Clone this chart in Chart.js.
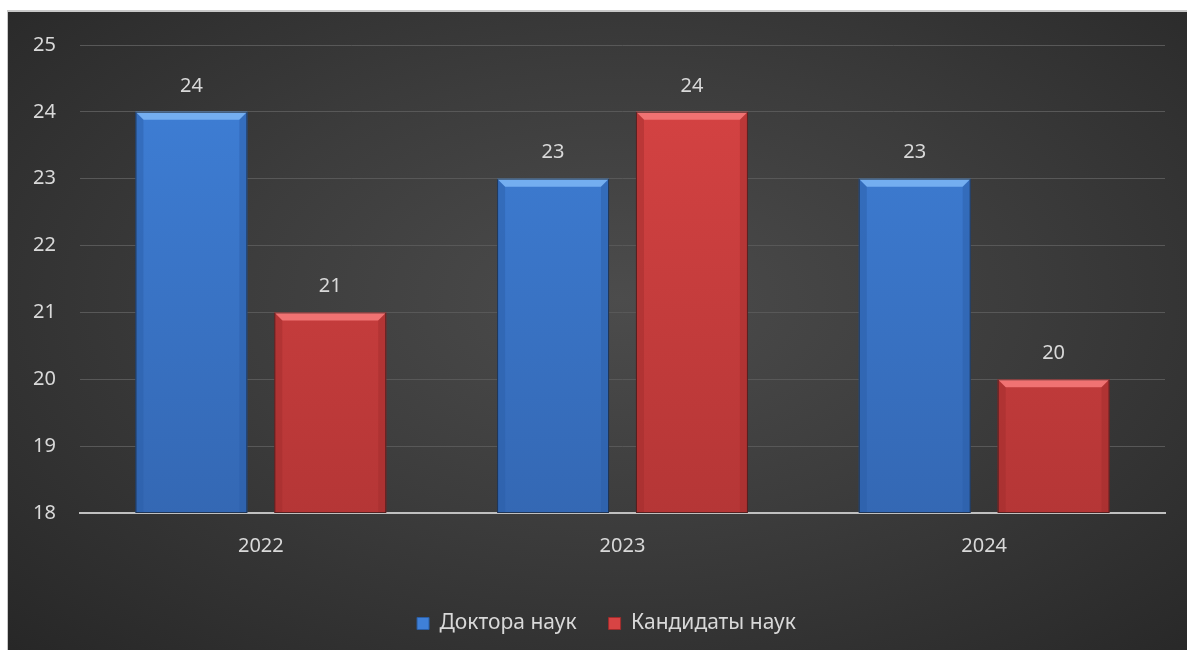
<!DOCTYPE html>
<html lang="ru">
<head>
  <meta charset="UTF-8">
  <title>Доктора и кандидаты наук</title>
  <script src="https://cdn.jsdelivr.net/npm/chart.js"></script>
  <style>
    html, body {
      margin: 0;
      padding: 0;
      background: #fff;
      width: 1187px;
      height: 650px;
      overflow: hidden;
    }
    .frame {
      position: absolute;
      left: 7px;
      top: 10px;
      width: 1180px;
      height: 640px;
      border-left: 1px solid #c8c8c8;
      border-top: 2px solid #c8c8c8;
      box-sizing: border-box;
      overflow: hidden;
      background: radial-gradient(ellipse 75% 80% at 52% 45%, #4c4c4c 0%, #3c3c3c 45%, #262626 100%);
    }
    canvas { display: block; position: relative; top: -3px; }
  </style>
</head>
<body>
  <div class="frame">
    <canvas id="chart" width="1179" height="641"></canvas>
  </div>

  <script>
    const years = ['2022', '2023', '2024'];
    const doctors = [24, 23, 23];
    const candidates = [21, 24, 20];
    const yTicks = [18, 19, 20, 21, 22, 23, 24, 25];

    const FONT = '"Noto Sans", sans-serif';
    const TEXT = '#d9d9d9';

    const palette = {
      blue: { body: '#3f80d8', dark: '#2a5ea6', light: '#74aef0', bottom: '#3468b4' },
      red:  { body: '#d84444', dark: '#a02c2c', light: '#f07272', bottom: '#b53636' }
    };

    function bodyGradient(ctx, c) {
      const area = ctx.chart.chartArea;
      if (!area) return c.body;
      const g = ctx.chart.ctx.createLinearGradient(0, area.top, 0, area.bottom);
      g.addColorStop(0, c.body);
      g.addColorStop(1, c.bottom);
      return g;
    }

    // bevel edges drawn on top of each bar
    const bevel = {
      id: 'bevel',
      afterDatasetsDraw(chart) {
        const ctx = chart.ctx;
        const bottom = chart.chartArea.bottom;
        chart.data.datasets.forEach((ds, i) => {
          const c = ds.pal;
          chart.getDatasetMeta(i).data.forEach(bar => {
            const l = bar.x - bar.width / 2, r = bar.x + bar.width / 2;
            const t = bar.y, b = Math.min(bar.base, bottom) - 1, s = 8;
            ctx.save();
            ctx.fillStyle = c.light;
            ctx.beginPath();
            ctx.moveTo(l, t); ctx.lineTo(r, t); ctx.lineTo(r - s, t + s); ctx.lineTo(l + s, t + s);
            ctx.closePath(); ctx.fill();
            ctx.globalAlpha = 0.45;
            ctx.fillStyle = c.dark;
            ctx.beginPath();
            ctx.moveTo(l, t); ctx.lineTo(l + s, t + s); ctx.lineTo(l + s, b); ctx.lineTo(l, b);
            ctx.closePath(); ctx.fill();
            ctx.beginPath();
            ctx.moveTo(r, t); ctx.lineTo(r - s, t + s); ctx.lineTo(r - s, b); ctx.lineTo(r, b);
            ctx.closePath(); ctx.fill();
            ctx.globalAlpha = 1;
            ctx.strokeStyle = 'rgba(20,20,20,0.6)';
            ctx.lineWidth = 1;
            ctx.strokeRect(l + 0.5, t + 0.5, bar.width - 1, b - t);
            ctx.restore();
          });
        });
      }
    };

    const valueLabels = {
      id: 'valueLabels',
      afterDatasetsDraw(chart) {
        const ctx = chart.ctx;
        ctx.save();
        ctx.font = '20px ' + FONT;
        ctx.fillStyle = TEXT;
        ctx.textAlign = 'center';
        ctx.textBaseline = 'middle';
        chart.data.datasets.forEach((ds, i) => {
          chart.getDatasetMeta(i).data.forEach((bar, j) => {
            ctx.fillText(ds.data[j], bar.x, bar.y - 26);
          });
        });
        ctx.restore();
      }
    };

    // nudge the legend a bit right, like the original
    const legendShift = {
      id: 'legendShift',
      afterLayout(chart) {
        chart.legend.left += 20;
        chart.legend.right += 20;
      }
    };

    new Chart(document.getElementById('chart'), {
      type: 'bar',
      data: {
        labels: years,
        datasets: [
          {
            label: 'Доктора наук',
            data: doctors,
            pal: palette.blue,
            backgroundColor: ctx => bodyGradient(ctx, palette.blue),
            categoryPercentage: 0.768,
            barPercentage: 0.806
          },
          {
            label: 'Кандидаты наук',
            data: candidates,
            pal: palette.red,
            backgroundColor: ctx => bodyGradient(ctx, palette.red),
            categoryPercentage: 0.768,
            barPercentage: 0.806
          }
        ]
      },
      options: {
        responsive: false,
        animation: false,
        layout: { padding: { top: 18, right: 22, bottom: 6, left: 0 } },
        plugins: {
          tooltip: { enabled: false },
          legend: {
            position: 'bottom',
            labels: {
              color: TEXT,
              font: { family: FONT, size: 21 },
              boxWidth: 12,
              boxHeight: 12,
              padding: 32,
              generateLabels(chart) {
                return chart.data.datasets.map((ds, i) => ({
                  text: ds.label,
                  fillStyle: ds.pal.body,
                  strokeStyle: ds.pal.dark,
                  lineWidth: 1,
                  fontColor: TEXT,
                  datasetIndex: i
                }));
              }
            }
          }
        },
        scales: {
          x: {
            grid: { display: false },
            border: { color: '#c0c0c0', width: 2 },
            ticks: { color: TEXT, font: { family: FONT, size: 20 }, padding: 13 },
            afterFit(scale) { scale.height = 68; }
          },
          y: {
            min: 18,
            max: 25,
            afterBuildTicks(scale) { scale.ticks = yTicks.map(v => ({ value: v })); },
            grid: { color: '#585858', lineWidth: 1, drawTicks: false },
            border: { display: false },
            ticks: { color: TEXT, font: { family: FONT, size: 20 }, padding: 24 },
            afterFit(scale) { scale.width = 72; }
          }
        }
      },
      plugins: [bevel, valueLabels, legendShift]
    });
  </script>
</body>
</html>
